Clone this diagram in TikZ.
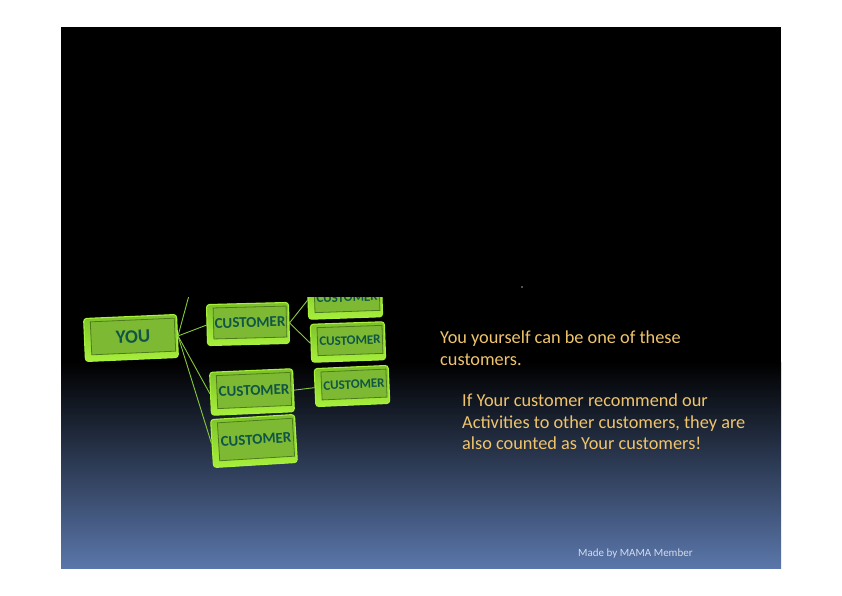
\documentclass[tikz,border=0pt]{standalone}
\usepackage{fontspec}
\setmainfont{Carlito}
\usetikzlibrary{calc}
\definecolor{bgmid}{HTML}{1E2637}
\definecolor{bgbot}{HTML}{5A76AA}
\definecolor{limeA}{HTML}{A8F03C}
\definecolor{limeB}{HTML}{7CC02A}
\definecolor{face}{HTML}{7DB932}
\definecolor{faceline}{HTML}{4E7C1C}
\definecolor{boxtext}{HTML}{0F5548}
\definecolor{conncol}{HTML}{86C83C}
\definecolor{txtcol}{HTML}{F0C46C}
\definecolor{smallcol}{HTML}{D4DDF0}
\newcommand\greenbox[7]{%
  \node[outerbox, minimum width=#4, minimum height=#5, rotate=#6] (#1) at (#2,#3) {};
  \node[innerbox, minimum width=#4-9, minimum height=#5-10, rotate=#6] (#1i) at ($(#1.center)+(2,-1.5)$) {#7};
}
\begin{document}
\begin{tikzpicture}[x=1pt,y=-1pt,
  outerbox/.style={draw=limeA, line width=1.1, top color=limeB, bottom color=limeA, rounded corners=3, inner sep=0pt},
  innerbox/.style={draw=faceline, line width=0.8, fill=face, inner sep=0pt, text=boxtext, font=\bfseries\fontsize{15}{15}\selectfont},
  conn/.style={draw=conncol, line width=0.9},
  bodytext/.style={text=txtcol, font=\fontsize{18.3}{21.6}\selectfont, align=left, inner sep=0pt, anchor=north west},
]
\useasboundingbox (0,0) rectangle (842,595);
\fill[white] (0,0) rectangle (842,595);
\fill[black] (61,27) rectangle (781,363);
\shade[top color=black, middle color=bgmid, bottom color=bgbot] (61,362) rectangle (781,568);

\begin{scope}
\clip (61,297) rectangle (781,568);
\coordinate (up) at (191,288);
\greenbox{you}{131}{338}{93}{43}{2.5}{\fontsize{19}{19}\selectfont YOU}
\greenbox{ca}{248}{324}{82}{41}{1.5}{CUSTOMER}
\greenbox{cb}{345}{299}{74}{38}{2}{\fontsize{13}{13}\selectfont CUSTOMER}
\greenbox{cc}{348}{342}{74}{38}{2}{\fontsize{13}{13}\selectfont CUSTOMER}
\greenbox{cd}{252}{392}{83}{43}{2.5}{CUSTOMER}
\greenbox{ce}{352}{386}{74}{38}{2.5}{\fontsize{13}{13}\selectfont CUSTOMER}
\greenbox{cf}{254}{441}{84}{48}{3.5}{CUSTOMER}
\draw[conn] (you.east) -- (up);
\draw[conn] (you.east) -- (ca.west);
\draw[conn] (you.east) -- (cd.west);
\draw[conn] (you.east) -- (cf.west);
\draw[conn] (ca.east) -- (cb.west);
\draw[conn] (ca.east) -- (cc.west);
\draw[conn] (cd.east) -- (ce.west);
\end{scope}

\fill[gray!70] (522,287) circle (0.8);
\node[bodytext] (p1) at (440,330.5) {You yourself can be one of these\\customers.};
\node[bodytext] (p2) at (462,393.5) {If Your customer recommend our\\Activities to other customers, they are\\also counted as Your customers!};
\node[text=smallcol, font=\fontsize{11}{12}\selectfont, inner sep=0pt, anchor=base west] (made) at (578,556) {Made by MAMA Member};
\end{tikzpicture}
\end{document}
